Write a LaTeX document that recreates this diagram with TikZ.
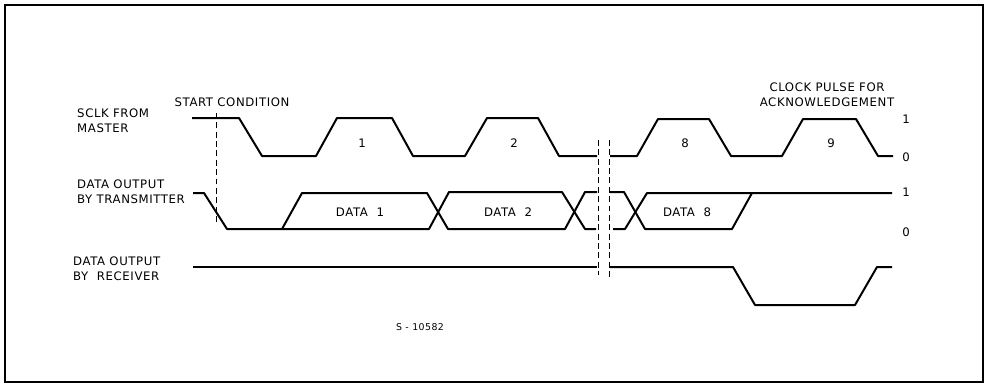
\documentclass[tikz,border=0pt]{standalone}
\usepackage{fontspec}
\setmainfont{DejaVu Sans}[LetterSpace=5]
\usetikzlibrary{positioning}

\begin{document}
\begin{tikzpicture}[x=0.03cm, y=-0.03cm,
    wave/.style={line width=1.7pt, line join=round},
    brk/.style={line width=0.6pt, dash pattern=on 5pt off 3pt},
    lbl/.style={font=\fontsize{10}{12.5}\selectfont, align=left, anchor=west, inner sep=0pt},
    txt/.style={font=\fontsize{10}{12.5}\selectfont, inner sep=0pt}]
    \useasboundingbox (0,0) rectangle (989,385);
    \draw[line width=1pt] (5,5) rectangle (983,382);
    % signal names
    \node[lbl] (sclk) at (77,121) {SCLK FROM\\MASTER};
    \node[lbl] (trans) at (77,191.5) {DATA OUTPUT\\BY TRANSMITTER};
    \node[lbl] (recv) at (73,268.5) {DATA OUTPUT\\BY\ \ RECEIVER};
    \node[txt] (start) at (232,102) {START CONDITION};
    \node[txt, align=center] (ack) at (827,95) {CLOCK PULSE FOR\\ACKNOWLEDGEMENT};
    % clock
    \draw[wave] (192,118) -- (239,118) -- (262,156) -- (316,156) -- (337,118) -- (392,118)
        -- (413,156) -- (465,156) -- (487,118) -- (538,118) -- (559,156) -- (597,156);
    \draw[wave] (610,156) -- (637,156) -- (658,119) -- (709,119) -- (731,156) -- (782,156)
        -- (803,119) -- (856,119) -- (878,156) -- (893,156);
    \foreach \n/\x in {1/362, 2/514, 8/685, 9/831}
        \node[txt] (pulse-\n) at (\x,143) {\n};
    % data from transmitter
    \draw[wave] (193,193) -- (204,193) -- (227,229) -- (429,229) -- (449,192) -- (562,192)
        -- (585,229) -- (596,229);
    \draw[wave] (282,229) -- (302,193) -- (427,193) -- (448,229) -- (565,229) -- (585,192)
        -- (597,192);
    \draw[wave] (610,192) -- (624,192) -- (645,229) -- (732,229) -- (752,193) -- (892,193);
    \draw[wave] (613,229) -- (625,229) -- (647,193) -- (752,193);
    \foreach \n/\x in {1/360, 2/508, 8/687}
        \node[txt] (data-\n) at (\x,212) {DATA\ \ \n};
    % data from receiver
    \draw[wave] (193,267) -- (597,267);
    \draw[wave] (610,267) -- (733,267) -- (755,305) -- (855,305) -- (877,267) -- (892,267);
    % levels
    \foreach \i/\v/\y in {a/1/119, b/0/157, c/1/192, d/0/232}
        \node[txt] (lvl-\i) at (906,\y) {\v};
    % start and break marks
    \draw[brk] (216,113) -- (216,223);
    \draw[brk] (598,140) -- (598,275);
    \draw[brk] (609,140) -- (609,280);
    \node[txt, font=\fontsize{8}{10}\selectfont] (fig) at (420,327) {S - 10582};
\end{tikzpicture}
\end{document}
